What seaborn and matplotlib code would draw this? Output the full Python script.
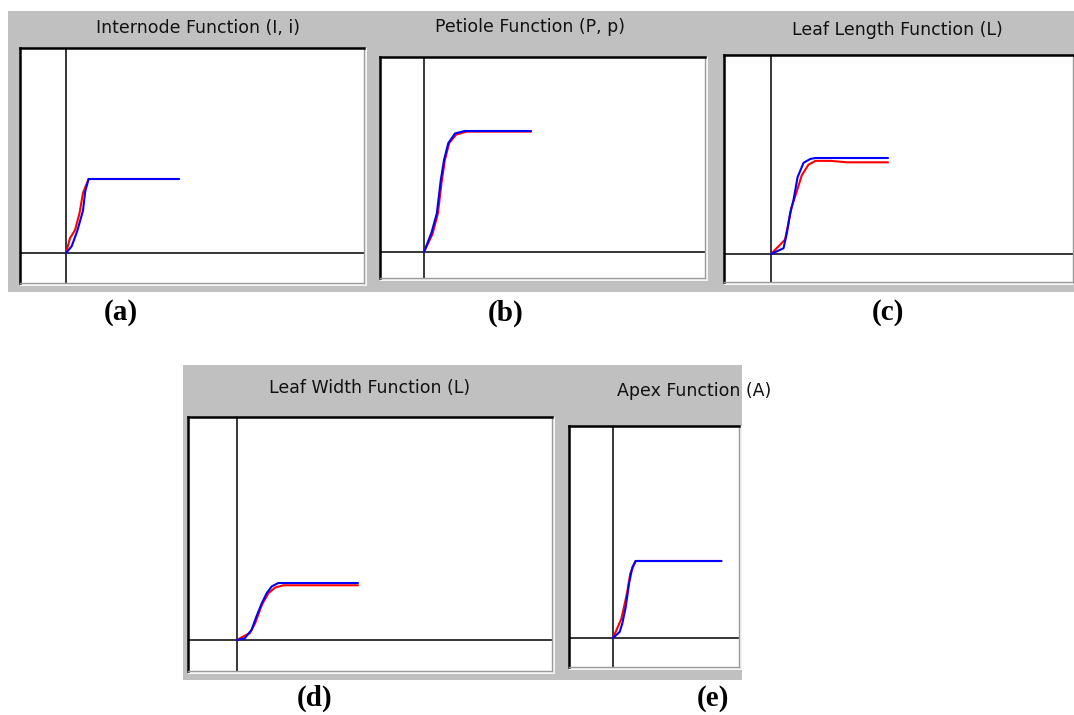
import numpy as np
import pandas as pd
import matplotlib.pyplot as plt
import seaborn as sns
from matplotlib.patches import Rectangle

# ------------------------------------------------------------------
# data (x in time units, y relative to plateau)
# ------------------------------------------------------------------
titles = ["Internode Function (I, i)", "Petiole Function (P, p)",
          "Leaf Length Function (L)", "Leaf Width Function (L)",
          "Apex Function (A)"]
letters = ["(a)", "(b)", "(c)", "(d)", "(e)"]

a_red_x = [0, 0.35, 0.8, 1.2, 1.5, 2.0, 10]
a_red_y = [0, 0.20, 0.31, 0.54, 0.81, 1.0, 1.0]
a_blue_x = [0, 0.5, 1.0, 1.5, 1.7, 2.0, 10]
a_blue_y = [0, 0.09, 0.30, 0.57, 0.83, 1.0, 1.0]

b_red_x = [0, 0.8, 1.3, 1.65, 1.95, 2.35, 3.0, 4.0, 10]
b_red_y = [0, 0.15, 0.32, 0.58, 0.76, 0.90, 0.97, 0.995, 0.995]
b_blue_x = [0, 0.7, 1.2, 1.56, 1.87, 2.27, 2.9, 3.8, 10]
b_blue_y = [0, 0.16, 0.32, 0.59, 0.76, 0.90, 0.98, 1.0, 1.0]

c_red_x = [0, 0.64, 1.2, 1.77, 2.14, 2.63, 3.2, 3.79, 5.1, 6.5, 10]
c_red_y = [0, 0.08, 0.15, 0.49, 0.63, 0.82, 0.93, 0.97, 0.97, 0.955, 0.955]
c_blue_x = [0, 1.07, 1.36, 1.64, 1.92, 2.27, 2.78, 3.36, 3.79, 10]
c_blue_y = [0, 0.06, 0.22, 0.43, 0.56, 0.80, 0.95, 0.99, 1.0, 1.0]

d_red_x = [0, 0.5, 1.05, 1.49, 2.04, 2.59, 3.15, 3.83, 10]
d_red_y = [0, 0.06, 0.12, 0.29, 0.61, 0.82, 0.92, 0.96, 0.96]
d_blue_x = [0, 0.64, 1.2, 1.6, 2.04, 2.45, 2.87, 3.42, 10]
d_blue_y = [0, 0.03, 0.175, 0.41, 0.64, 0.82, 0.94, 1.0, 1.0]

e_red_x = [0, 0.37, 0.77, 1.29, 1.6, 2.09, 10]
e_red_y = [0, 0.12, 0.25, 0.58, 0.84, 1.0, 1.0]
e_blue_x = [0, 0.62, 0.86, 1.17, 1.48, 1.79, 2.09, 10]
e_blue_y = [0, 0.08, 0.19, 0.40, 0.71, 0.92, 1.0, 1.0]

curves = [
    (a_red_x, a_red_y, a_blue_x, a_blue_y),
    (b_red_x, b_red_y, b_blue_x, b_blue_y),
    (c_red_x, c_red_y, c_blue_x, c_blue_y),
    (d_red_x, d_red_y, d_blue_x, d_blue_y),
    (e_red_x, e_red_y, e_blue_x, e_blue_y),
]

# ------------------------------------------------------------------
# layout in pixels: plot box, origin, px per unit, title & letter pos
# ------------------------------------------------------------------
W, H = 1074, 715
boxes = [(20, 48, 364, 283), (380, 57, 705, 278), (724, 55, 1073, 282),
         (188, 417, 552, 671), (569, 426, 739, 667)]
origins = [(66, 253), (424, 252), (771, 254), (237, 640), (613, 638)]
scales = [(11.3, 74), (10.7, 121), (11.7, 96), (12.1, 57), (10.84, 77)]
title_pos = [(198, 28), (530, 27), (897, 30), (370, 388), (694, 391)]
letter_pos = [(121, 313), (506, 313), (888, 313), (315, 698), (713, 698)]
windows = [(8, 11, 370, 292), (370, 11, 716, 292), (716, 11, 1074, 292),
           (183, 365, 560, 680), (560, 365, 742, 680)]

sns.set_style("white")
plt.rcParams['font.family'] = ['DejaVu Sans']

fig = plt.figure(figsize=(W / 100, H / 100), dpi=100)
fig.patch.set_facecolor("white")


def px_rect(l, t, r, b):
    return (l / W, 1 - b / H, (r - l) / W, (b - t) / H)


# gray window backgrounds
for (l, t, r, b) in windows:
    x, y, w, h = px_rect(l, t, r, b)
    fig.patches.append(Rectangle((x, y), w, h, transform=fig.transFigure,
                                 facecolor="#c0c0c0", edgecolor="none", zorder=-3))

for i in range(5):
    l, t, r, b = boxes[i]
    x0, y0 = origins[i]
    sx, sy = scales[i]

    # white highlight of the sunken frame
    hx, hy, hw, hh = px_rect(l, t, r + 3, b + 3)
    fig.patches.append(Rectangle((hx, hy), hw, hh, transform=fig.transFigure,
                                 facecolor="#f6f6f6", edgecolor="none", zorder=-2))

    ax = fig.add_axes(px_rect(l, t, r, b))
    ax.set_zorder(2)
    ax.set_facecolor("white")
    rx, ry, bx, by = curves[i]
    df_r = pd.DataFrame({"x": rx, "y": ry})
    df_b = pd.DataFrame({"x": bx, "y": by})
    ax.axhline(0, color="black", lw=1.1, zorder=1)
    ax.axvline(0, color="black", lw=1.1, zorder=1)
    sns.lineplot(data=df_r, x="x", y="y", ax=ax, color="#ff0000", lw=1.5,
                 estimator=None, sort=False, zorder=2)
    sns.lineplot(data=df_b, x="x", y="y", ax=ax, color="#0000ff", lw=1.5,
                 estimator=None, sort=False, zorder=3)
    ax.set_xlim((l - x0) / sx, (r - x0) / sx)
    ax.set_ylim((y0 - b) / sy, (y0 - t) / sy)
    ax.set_xticks([])
    ax.set_yticks([])
    ax.set_xlabel("")
    ax.set_ylabel("")
    for side in ["top", "left"]:
        ax.spines[side].set_color("black")
        ax.spines[side].set_linewidth(1.8)
    for side in ["bottom", "right"]:
        ax.spines[side].set_color("#9a9a9a")
        ax.spines[side].set_linewidth(1.0)

    tx, ty = title_pos[i]
    fig.text(tx / W, 1 - ty / H, titles[i], ha="center", va="center",
             fontsize=12.5, color="#111111")
    lx, ly = letter_pos[i]
    fig.text(lx / W, 1 - ly / H, letters[i], ha="center", va="center",
             fontsize=21, fontweight="bold", family="Liberation Serif",
             color="black")

fig.savefig("out.png", dpi=100)
